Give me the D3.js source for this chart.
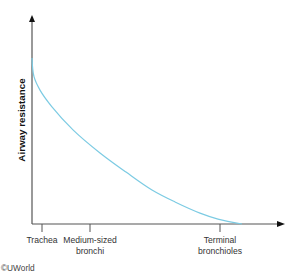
<!DOCTYPE html>
<html><head><meta charset="utf-8">
<script src="https://cdn.jsdelivr.net/npm/d3@7"></script>
<style>body{margin:0;background:#fff}svg{display:block}</style>
</head><body>
<script>
const curveX = [0, 0.8, 3.2, 7.9, 16.5, 27.2, 37.6, 48, 57.2, 67.2, 74.4, 84];
const curveY = [80.6, 71.5, 65.0, 57.0, 45.6, 34.5, 25.2, 16.5, 10.7, 5.3, 2.4, 0];
const tickPos = [4, 23.2, 75.2];
const tickLabels = [["Trachea"], ["Medium-sized", "bronchi"], ["Terminal", "bronchioles"]];
const yLabel = "Airway resistance";
const credit = "\u00A9UWorld";

const W = 300, H = 274;
const svg = d3.select("body").append("svg").attr("width", W).attr("height", H);
const x = d3.scaleLinear().domain([0, 100]).range([32, 282]);
const y = d3.scaleLinear().domain([0, 100]).range([224, 18]);
const font = "Liberation Sans, Arial, sans-serif";

// axes
const axCol = "#555";
svg.append("line").attr("x1", x(0)).attr("x2", x(0)).attr("y1", y(0)).attr("y2", 20)
  .attr("stroke", axCol).attr("stroke-width", 1.2);
svg.append("line").attr("x1", x(0)).attr("x2", 280).attr("y1", y(0)).attr("y2", y(0))
  .attr("stroke", axCol).attr("stroke-width", 1.2);
// arrowheads
svg.append("path").attr("d", `M${x(0)-3},${22} L${x(0)},${15} L${x(0)+3},${22} Z`).attr("fill", "#111");
svg.append("path").attr("d", `M${277},${y(0)-3} L${285},${y(0)} L${277},${y(0)+3} Z`).attr("fill", "#111");

// ticks
const ticks = svg.append("g");
tickPos.forEach((p, i) => {
  ticks.append("line").attr("x1", x(p)).attr("x2", x(p)).attr("y1", y(0)).attr("y2", y(0) + 8)
    .attr("stroke", axCol).attr("stroke-width", 1);
  const t = ticks.append("text").attr("x", x(p)).attr("y", 243).attr("text-anchor", "middle")
    .attr("font-family", font).attr("font-size", 8.6).attr("fill", "#333");
  tickLabels[i].forEach((s, j) => t.append("tspan").attr("x", x(p)).attr("dy", j === 0 ? 0 : 10.5).text(s));
});

// curve
const pts = curveX.map((v, i) => [v, curveY[i]]);
svg.append("path").datum(pts)
  .attr("d", d3.line().x(d => x(d[0])).y(d => y(d[1])).curve(d3.curveCatmullRom.alpha(0.5)))
  .attr("fill", "none").attr("stroke", "#7ccbe3").attr("stroke-width", 1.2);

// y label
svg.append("text").attr("transform", "translate(25,120) rotate(-90)").attr("text-anchor", "middle")
  .attr("font-family", font).attr("font-size", 9.8).attr("font-weight", "bold").attr("fill", "#111")
  .text(yLabel);

// credit
svg.append("text").attr("x", 1).attr("y", 271).attr("font-family", font).attr("font-size", 8.3)
  .attr("fill", "#444").text(credit);
</script>
</body></html>
